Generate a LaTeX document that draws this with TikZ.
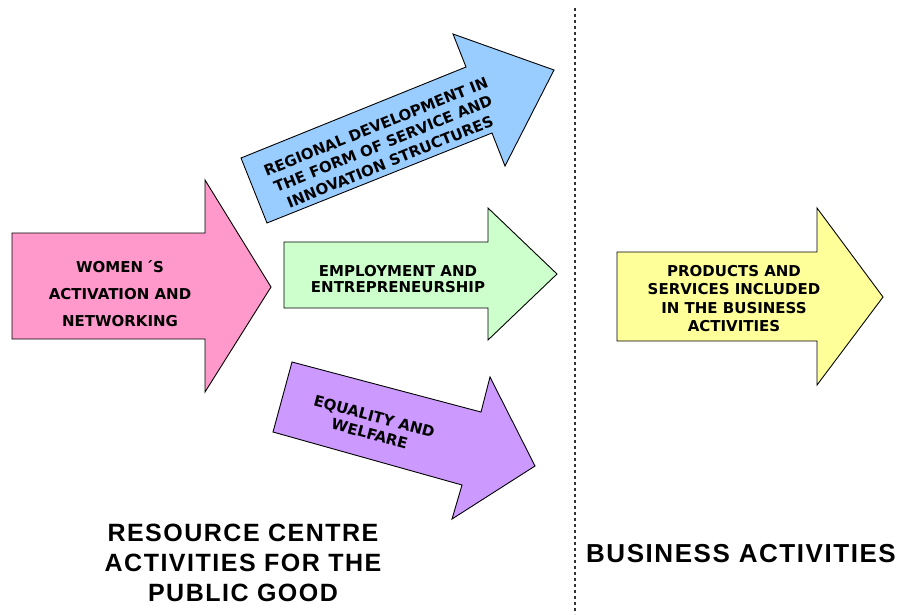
\documentclass[tikz,border=0pt]{standalone}
\usepackage{fontspec}
\setmainfont{DejaVu Sans}
\newfontfamily\titlefont[LetterSpace=6]{Liberation Sans}
\definecolor{pinkfill}{HTML}{FF99CC}
\definecolor{bluefill}{HTML}{99CCFF}
\definecolor{greenfill}{HTML}{CCFFCC}
\definecolor{purplefill}{HTML}{CC99FF}
\definecolor{yellowfill}{HTML}{FFFF99}
\begin{document}
\begin{tikzpicture}[x=1pt,y=-1pt,
  arrowshape/.style={draw=black, line width=0.9pt, line join=miter},
  lbl/.style={font=\fontsize{15}{17}\selectfont\bfseries, align=center, inner sep=0pt, text=black},
  ttl/.style={font=\titlefont\fontsize{25}{30}\selectfont\bfseries, align=center, inner sep=0pt, text=black},
  divider/.style={draw=black!80, line width=1.3pt, dash pattern=on 3pt off 3pt}]
\useasboundingbox (0,0) rectangle (904,614);
% pink
\draw[arrowshape, fill=pinkfill] (12,233) -- (205,233) -- (205,180) -- (271,287) -- (205,392) -- (205,339) -- (12,339) -- cycle;
\node[lbl, font=\fontsize{15}{27}\selectfont\bfseries] (women) at (120,294) {WOMEN\,´S\\ACTIVATION AND\\NETWORKING};
% blue
\draw[arrowshape, fill=bluefill] (241,158) -- (466,67) -- (453,34) -- (554,70) -- (505,166) -- (492,133) -- (267,223) -- cycle;
\node[lbl, rotate=22, font=\fontsize{15}{19}\selectfont\bfseries] (regional) at (383,144) {REGIONAL DEVELOPMENT IN\\THE FORM OF SERVICE AND\\INNOVATION STRUCTURES};
% green
\draw[arrowshape, fill=greenfill] (284,242) -- (488,242) -- (488,208) -- (557,274) -- (488,340) -- (488,308) -- (284,308) -- cycle;
\node[lbl, font=\fontsize{15}{16.5}\selectfont\bfseries] (employment) at (398,279) {EMPLOYMENT AND\\ENTREPRENEURSHIP};
% purple
\draw[arrowshape, fill=purplefill] (292,362) -- (481,412) -- (490,377) -- (535,466) -- (452,519) -- (462,485) -- (273,432) -- cycle;
\node[lbl, rotate=-15, font=\fontsize{15}{18}\selectfont\bfseries] (equality) at (372,425) {EQUALITY AND\\WELFARE};
% yellow
\draw[arrowshape, fill=yellowfill] (617,252) -- (817,252) -- (817,208) -- (883,297) -- (817,385) -- (817,341) -- (617,341) -- cycle;
\node[lbl, font=\fontsize{15}{18.3}\selectfont\bfseries] (products) at (734,298.5) {PRODUCTS AND\\SERVICES INCLUDED\\IN THE BUSINESS\\ACTIVITIES};
% divider
\coordinate (divtop) at (575,8);
\coordinate (divbot) at (575,614);
\draw[divider] (divtop) -- (divbot);
% titles
\node[ttl] (resource) at (243,563) {RESOURCE CENTRE\\ACTIVITIES FOR THE\\PUBLIC GOOD};
\node[ttl, font=\titlefont\fontsize{26}{30}\selectfont\bfseries] (business) at (741,554) {BUSINESS ACTIVITIES};
\end{tikzpicture}
\end{document}
